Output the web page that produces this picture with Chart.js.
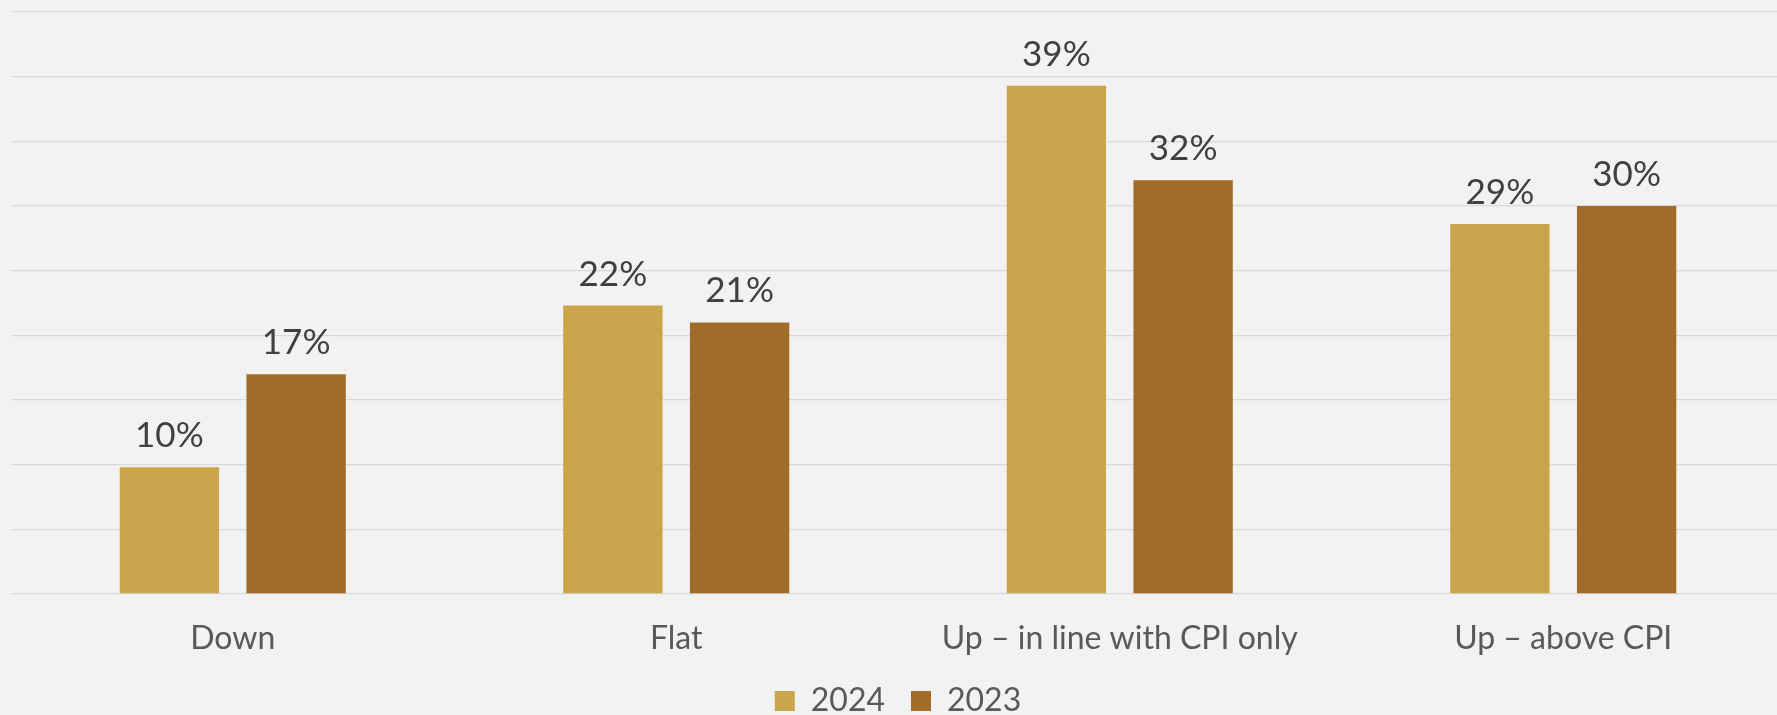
<!DOCTYPE html>
<html>
<head>
<meta charset="utf-8">
<script src="https://cdn.jsdelivr.net/npm/chart.js@4/dist/chart.umd.min.js"></script>
<style>
  html, body { margin: 0; padding: 0; background: #F2F2F2; overflow: hidden; }
  #wrap { position: relative; width: 1790px; height: 730px; }
</style>
</head>
<body>
<div id="wrap"><canvas id="c"></canvas></div>
<script>
const categories = ["Down", "Flat", "Up \u2013 in line with CPI only", "Up \u2013 above CPI"];
const seriesNames = ["2024", "2023"];
const values2024 = [9.8, 22.3, 39.3, 28.6];
const values2023 = [17.0, 21.0, 32.0, 30.0];
const yMax = 45;
const yStep = 5;

const colors = ["#C9A64B", "#A16B29"];
const FONT = "Lato, 'Open Sans', sans-serif";

const dataLabels = {
  id: "dataLabels",
  afterDatasetsDraw(chart) {
    const ctx = chart.ctx;
    ctx.save();
    ctx.font = "35px " + FONT;
    ctx.fillStyle = "#404040";
    ctx.textAlign = "center";
    ctx.textBaseline = "alphabetic";
    chart.data.datasets.forEach((ds, di) => {
      const meta = chart.getDatasetMeta(di);
      meta.data.forEach((bar, i) => {
        ctx.fillText(Math.round(ds.data[i]) + "%", bar.x, bar.y - 20);
      });
    });
    ctx.restore();
  }
};

new Chart(document.getElementById("c"), {
  type: "bar",
  data: {
    labels: categories,
    datasets: [
      { label: seriesNames[0], data: values2024, backgroundColor: colors[0] },
      { label: seriesNames[1], data: values2023, backgroundColor: colors[1] }
    ]
  },
  options: {
    responsive: true,
    maintainAspectRatio: false,
    animation: false,
    layout: { padding: { left: 11, right: 5, top: 12, bottom: 3 } },
    datasets: { bar: { categoryPercentage: 0.5714, barPercentage: 0.784 } },
    plugins: {
      legend: {
        position: "bottom",
        labels: {
          boxWidth: 20, boxHeight: 20, padding: 26,
          color: "#595959",
          font: { family: FONT, size: 32 }
        }
      },
      tooltip: { enabled: false }
    },
    scales: {
      x: {
        grid: { display: false },
        border: { display: false },
        ticks: { color: "#595959", padding: 17, font: { family: FONT, size: 32 }, maxRotation: 0 },
        afterFit(scale) { scale.height = 65; }
      },
      y: {
        min: 0, max: yMax,
        grid: { color: "#D9D9D9", lineWidth: 1.3, drawTicks: false },
        border: { display: false },
        ticks: { display: false, stepSize: yStep }
      }
    }
  },
  plugins: [dataLabels]
});
</script>
</body>
</html>
